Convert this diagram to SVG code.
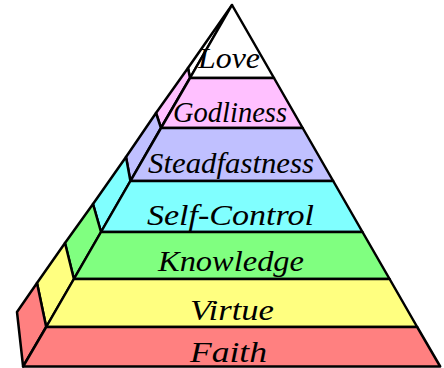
<svg xmlns="http://www.w3.org/2000/svg" width="444" height="368" viewBox="0 0 444 368">
<style>
.b{stroke:#000;stroke-width:2.5;stroke-linejoin:round}
.t{font-family:"Liberation Serif","DejaVu Serif",serif;font-style:italic;font-size:30px;fill:#000;text-anchor:middle}
.love{fill:#ffffff}.god{fill:#ffc0ff}.stead{fill:#c0c0ff}.self{fill:#80ffff}.know{fill:#80ff80}.virt{fill:#ffff80}.faith{fill:#ff8080}
</style>
<rect width="444" height="368" fill="#ffffff"/>
<g id="layer-love">
<polygon class="b love" points="232,5 188,68 190,78"/>
<polygon class="b love" points="232,5 190,78 274,78"/>
<text class="t" x="229" y="68" textLength="62" lengthAdjust="spacingAndGlyphs">Love</text>
</g>
<g id="layer-godliness">
<polygon class="b god" points="188,68 156,113 161,128 190,78"/>
<polygon class="b god" points="190,78 274,78 302.7,128 161,128"/>
<text class="t" x="230" y="122" textLength="114" lengthAdjust="spacingAndGlyphs">Godliness</text>
</g>
<g id="layer-steadfastness">
<polygon class="b stead" points="156,113 126,157 130.4,181 161,128"/>
<polygon class="b stead" points="161,128 302.7,128 333.2,181 130.4,181"/>
<text class="t" x="231" y="173" textLength="166" lengthAdjust="spacingAndGlyphs">Steadfastness</text>
</g>
<g id="layer-self-control">
<polygon class="b self" points="126,157 93,204 101,232 130.4,181"/>
<polygon class="b self" points="130.4,181 333.2,181 362.5,232 101,232"/>
<text class="t" x="230.5" y="225" textLength="167" lengthAdjust="spacingAndGlyphs">Self-Control</text>
</g>
<g id="layer-knowledge">
<polygon class="b know" points="93,204 65,243 73.9,279 101,232"/>
<polygon class="b know" points="101,232 362.5,232 389.6,279 73.9,279"/>
<text class="t" x="231" y="271" textLength="146" lengthAdjust="spacingAndGlyphs">Knowledge</text>
</g>
<g id="layer-virtue">
<polygon class="b virt" points="65,243 37,283 46.2,327 73.9,279"/>
<polygon class="b virt" points="73.9,279 389.6,279 417.2,327 46.2,327"/>
<text class="t" x="232" y="320" textLength="84" lengthAdjust="spacingAndGlyphs">Virtue</text>
</g>
<g id="layer-faith">
<polygon class="b faith" points="37,283 17,312 23.1,366.5 46.2,327"/>
<polygon class="b faith" points="46.2,327 417.2,327 440.2,366.5 23.1,366.5"/>
<text class="t" x="228.5" y="362" textLength="77" lengthAdjust="spacingAndGlyphs">Faith</text>
</g>
</svg>
